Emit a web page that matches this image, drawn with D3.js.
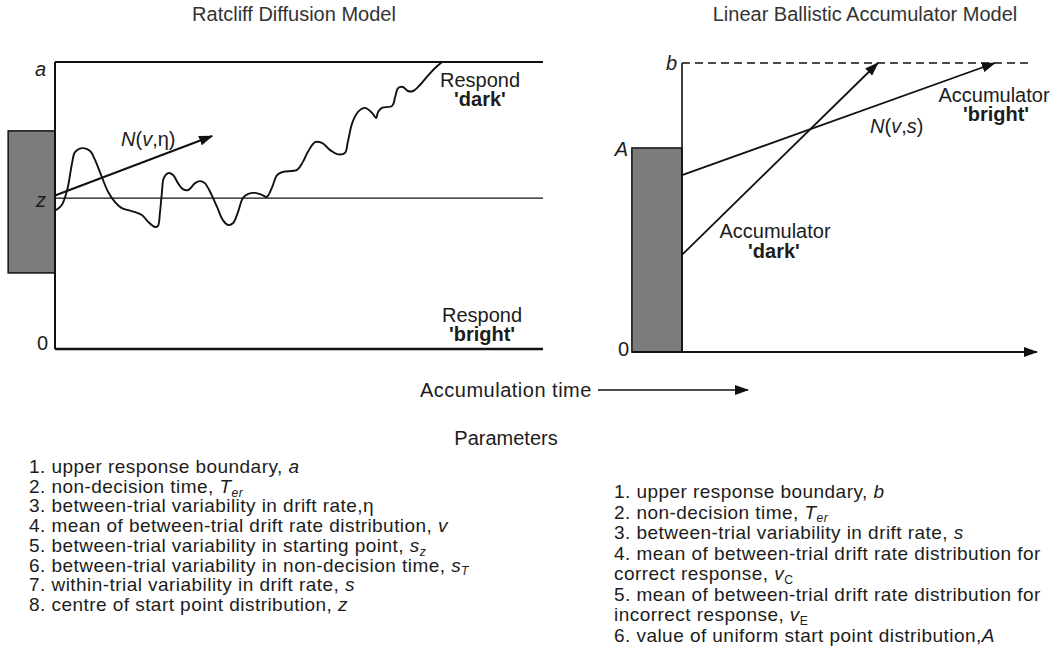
<!DOCTYPE html>
<html><head><meta charset="utf-8">
<script src="https://cdn.jsdelivr.net/npm/d3@7"></script>
<style>
html,body{margin:0;padding:0;background:#fff;}
svg text{font-family:"Liberation Sans",Arial,sans-serif;fill:#1c1c1c;white-space:pre;}
</style></head><body>
<svg id="chart" width="1059" height="649"></svg>
<script>
// ---------- data (time 0-100, evidence 0-100 of boundary) ----------
const driftPath = [[0.2,48.4],[1.4,50.2],[2.5,55.4],[3.5,64.8],[4.1,68.6],[5.7,70.0],[7.2,69.0],[8.2,65.9],[9.6,59.9],[10.9,54.7],[12.3,51.2],[13.7,49.1],[15.0,48.4],[16.4,47.7],[17.8,46.7],[19.1,44.3],[20.5,42.5],[21.1,42.9],[21.5,47.4],[21.9,54.4],[22.3,59.6],[23.2,61.3],[24.2,60.6],[25.2,57.8],[26.2,55.7],[27.3,55.4],[28.7,57.8],[29.7,58.5],[30.7,57.8],[31.8,54.7],[33.2,49.5],[34.4,44.9],[35.5,43.2],[36.5,43.9],[37.5,47.7],[38.5,52.6],[39.5,54.0],[41.0,54.4],[42.4,53.7],[43.4,53.0],[44.5,56.4],[45.5,60.6],[46.7,61.7],[49.6,62.4],[50.8,65.2],[51.8,68.6],[53.3,72.1],[54.7,71.8],[56.4,69.3],[57.8,67.9],[59.4,68.3],[60.0,72.1],[60.9,78.7],[62.1,82.6],[63.5,84.0],[65.0,82.2],[65.8,80.5],[66.2,82.6],[67.0,84.0],[69.1,84.7],[69.7,87.8],[70.3,90.9],[71.3,91.3],[72.3,89.9],[73.4,89.9],[74.8,92.0],[76.2,94.8],[77.9,97.9],[79.3,100.0]];
const driftMean = [[0,53.5],[32.2,74.2]];
const startZ = 52.6;
const boundA = 100;
const ddmTer = [-9.6, 0];
const ddmStartRange = [26.5, 76.0];

const lbaBoundB = 100;
const lbaStartA = 70.6;
const lbaTer = [-14.4, 0];
const accBright = [[0,61.2],[89.9,100]];
const accDark = [[0,33.6],[56.3,100]];

const titles = ["Ratcliff Diffusion Model", "Linear Ballistic Accumulator Model"];

const leftParams = [
  [["1. upper response boundary, "],["a","i"]],
  [["2. non-decision time, "],["T","i"],["er","sub"]],
  [["3. between-trial variability in drift rate,"],["η"]],
  [["4. mean of between-trial drift rate distribution, "],["v","i"]],
  [["5. between-trial variability in starting point, "],["s","i"],["z","sub"]],
  [["6. between-trial variability in non-decision time, "],["s","i"],["T","sub"]],
  [["7. within-trial variability in drift rate, "],["s","i"]],
  [["8. centre of start point distribution, "],["z","i"]]
];
const rightParams = [
  [["1. upper response boundary, "],["b","i"]],
  [["2. non-decision time, "],["T","i"],["er","sub"]],
  [["3. between-trial variability in drift rate, "],["s","i"]],
  [["4. mean of between-trial drift rate distribution for"]],
  [["correct response, "],["v","i"],["C","subr"]],
  [["5. mean of between-trial drift rate distribution for"]],
  [["incorrect response, "],["v","i"],["E","subr"]],
  [["6. value of uniform start point distribution,"],["A","i"]]
];

// ---------- drawing ----------
const svg = d3.select("#chart");
const FS = 20;   // labels & titles
const LFS = 19;  // parameter lists

const defs = svg.append("defs");
defs.append("marker").attr("id","arr").attr("markerUnits","userSpaceOnUse")
  .attr("markerWidth",14).attr("markerHeight",10).attr("refX",13).attr("refY",5)
  .attr("orient","auto")
  .append("path").attr("d","M0,0 L14,5 L0,10 Z").attr("fill","#111");

function rich(g, x, y, segs, size, anchor, ls) {
  const t = g.append("text").attr("x", x).attr("y", y).attr("font-size", size);
  if (anchor) t.attr("text-anchor", anchor);
  if (ls) t.attr("letter-spacing", ls);
  let shifted = false;
  segs.forEach(([s, st]) => {
    const sp = t.append("tspan").text(s);
    if (st === "i") sp.attr("font-style", "italic");
    if (st === "b") sp.attr("font-weight", "bold");
    if (st === "sub" || st === "subr") {
      sp.attr("dy", size * 0.2).attr("font-size", size * 0.64);
      if (st === "sub") sp.attr("font-style", "italic");
      shifted = true;
    } else if (shifted) { sp.attr("dy", -size * 0.2); shifted = false; }
  });
  return t;
}

// ---- Left: diffusion model ----
const xL = d3.scaleLinear([0, 100], [55, 543]);
const yL = d3.scaleLinear([0, 100], [349, 62]);
const gL = svg.append("g");

gL.append("text").attr("x", 294).attr("y", 21).attr("text-anchor","middle")
  .attr("font-size", FS).style("fill","#333").text(titles[0]);

gL.append("rect")
  .attr("x", xL(ddmTer[0])).attr("width", xL(ddmTer[1]) - xL(ddmTer[0]))
  .attr("y", yL(ddmStartRange[1])).attr("height", yL(ddmStartRange[0]) - yL(ddmStartRange[1]))
  .attr("fill", "#7c7c7c").attr("stroke", "#111").attr("stroke-width", 1.5);

gL.append("line").attr("x1", xL(0)).attr("x2", xL(100)).attr("y1", yL(boundA)).attr("y2", yL(boundA))
  .attr("stroke","#111").attr("stroke-width",2);
gL.append("line").attr("x1", xL(0)).attr("x2", xL(100)).attr("y1", yL(0)).attr("y2", yL(0))
  .attr("stroke","#111").attr("stroke-width",2.4);
gL.append("line").attr("x1", xL(0)).attr("x2", xL(100)).attr("y1", yL(startZ)).attr("y2", yL(startZ))
  .attr("stroke","#111").attr("stroke-width",1.3);
gL.append("line").attr("x1", xL(0)).attr("x2", xL(0)).attr("y1", yL(boundA)).attr("y2", yL(0))
  .attr("stroke","#111").attr("stroke-width",2);

gL.append("path").datum(driftPath)
  .attr("d", d3.line().x(d => xL(d[0])).y(d => yL(d[1])).curve(d3.curveCatmullRom.alpha(0.5)))
  .attr("fill","none").attr("stroke","#111").attr("stroke-width",1.9);

gL.append("line").attr("x1", xL(driftMean[0][0])).attr("y1", yL(driftMean[0][1]))
  .attr("x2", xL(driftMean[1][0])).attr("y2", yL(driftMean[1][1]))
  .attr("stroke","#111").attr("stroke-width",2).attr("marker-end","url(#arr)");

rich(gL, 121, 146, [["N","i"],["("],["v","i"],[",η)"]], FS);

gL.append("text").attr("x", 46).attr("y", yL(boundA) + 14).attr("text-anchor","end")
  .attr("font-size", FS).attr("font-style","italic").text("a");
gL.append("text").attr("x", 46).attr("y", yL(startZ) + 9).attr("text-anchor","end")
  .attr("font-size", FS).attr("font-style","italic").text("z");
gL.append("text").attr("x", 48).attr("y", yL(0) + 1).attr("text-anchor","end")
  .attr("font-size", FS).text("0");

gL.append("text").attr("x", 480).attr("y", 87).attr("text-anchor","middle").attr("font-size", FS).text("Respond");
gL.append("text").attr("x", 480).attr("y", 106).attr("text-anchor","middle").attr("font-size", FS)
  .attr("font-weight","bold").text("'dark'");
gL.append("text").attr("x", 482).attr("y", 322).attr("text-anchor","middle").attr("font-size", FS).text("Respond");
gL.append("text").attr("x", 482).attr("y", 341).attr("text-anchor","middle").attr("font-size", FS)
  .attr("font-weight","bold").text("'bright'");

// ---- Right: LBA ----
const xR = d3.scaleLinear([0, 100], [682, 1030]);
const yR = d3.scaleLinear([0, 100], [352, 63]);
const gR = svg.append("g");

gR.append("text").attr("x", 865).attr("y", 21).attr("text-anchor","middle")
  .attr("font-size", FS).style("fill","#333").text(titles[1]);

gR.append("rect")
  .attr("x", xR(lbaTer[0])).attr("width", xR(lbaTer[1]) - xR(lbaTer[0]))
  .attr("y", yR(lbaStartA)).attr("height", yR(0) - yR(lbaStartA))
  .attr("fill", "#7c7c7c").attr("stroke", "#111").attr("stroke-width", 1.5);

gR.append("line").attr("x1", xR(0)).attr("x2", xR(0)).attr("y1", yR(lbaBoundB)).attr("y2", yR(0))
  .attr("stroke","#111").attr("stroke-width",1.6);
gR.append("line").attr("x1", xR(0)).attr("x2", xR(100)).attr("y1", yR(lbaBoundB)).attr("y2", yR(lbaBoundB))
  .attr("stroke","#111").attr("stroke-width",1.5).attr("stroke-dasharray","8,5");
gR.append("line").attr("x1", xR(lbaTer[0])).attr("x2", xR(102)).attr("y1", yR(0)).attr("y2", yR(0))
  .attr("stroke","#111").attr("stroke-width",2).attr("marker-end","url(#arr)");

[accBright, accDark].forEach(a => {
  gR.append("line").attr("x1", xR(a[0][0])).attr("y1", yR(a[0][1]))
    .attr("x2", xR(a[1][0])).attr("y2", yR(a[1][1]))
    .attr("stroke","#111").attr("stroke-width",1.8).attr("marker-end","url(#arr)");
});

gR.append("text").attr("x", 677).attr("y", yR(lbaBoundB) + 7).attr("text-anchor","end")
  .attr("font-size", FS).attr("font-style","italic").text("b");
gR.append("text").attr("x", 628).attr("y", yR(lbaStartA) + 8).attr("text-anchor","end")
  .attr("font-size", FS).attr("font-style","italic").text("A");
gR.append("text").attr("x", 629).attr("y", yR(0) + 4).attr("text-anchor","end")
  .attr("font-size", FS).text("0");

gR.append("text").attr("x", 994).attr("y", 102).attr("text-anchor","middle").attr("font-size", FS).text("Accumulator");
gR.append("text").attr("x", 996).attr("y", 121).attr("text-anchor","middle").attr("font-size", FS)
  .attr("font-weight","bold").text("'bright'");
rich(gR, 870, 133, [["N","i"],["("],["v","i"],[","],["s","i"],[")"]], FS);
gR.append("text").attr("x", 775).attr("y", 238).attr("text-anchor","middle").attr("font-size", FS).text("Accumulator");
gR.append("text").attr("x", 774).attr("y", 258).attr("text-anchor","middle").attr("font-size", FS)
  .attr("font-weight","bold").text("'dark'");

// ---- Accumulation time ----
svg.append("text").attr("x", 420).attr("y", 397).attr("font-size", FS)
  .attr("letter-spacing", 0.5).text("Accumulation time");
svg.append("line").attr("x1", 598).attr("x2", 748).attr("y1", 390).attr("y2", 390)
  .attr("stroke","#111").attr("stroke-width",1.6).attr("marker-end","url(#arr)");

// ---- Parameters ----
svg.append("text").attr("x", 506).attr("y", 445).attr("text-anchor","middle").attr("font-size", FS).text("Parameters");
const gP = svg.append("g");
leftParams.forEach((segs, i) => rich(gP, 29, 473 + i * 19.7, segs, LFS, null, 0.45));
rightParams.forEach((segs, i) => rich(gP, 614, 498 + i * 20.5, segs, LFS, null, 0.45));
</script>
</body></html>
